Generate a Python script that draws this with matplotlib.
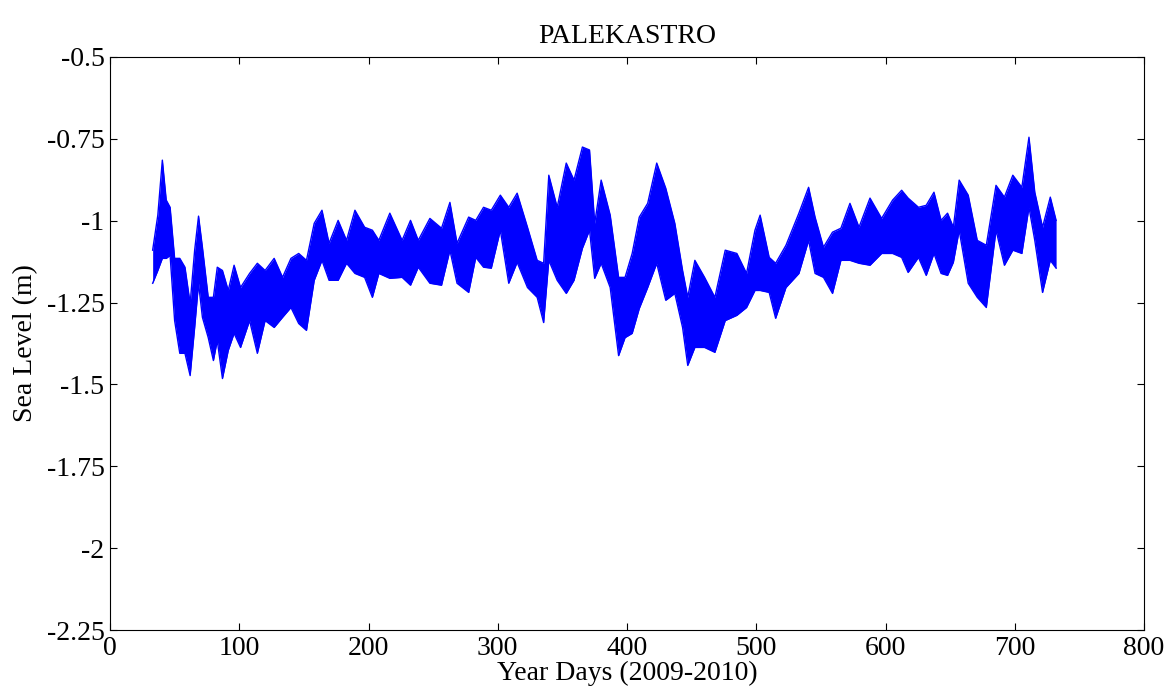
import matplotlib
matplotlib.use("Agg")
import matplotlib.pyplot as plt
import numpy as np

# Envelope of the sea-level record (day, upper, lower) in metres
days = [33, 37, 40.5, 43.5, 46.5, 50, 54, 58, 62, 65.5, 68.5, 71.5, 76, 80, 83, 87, 91.5, 96,
        101, 108, 114, 120, 127, 133.5, 140, 146, 152, 158, 164, 169.5, 176.5, 183, 189.5,
        197, 203, 208, 216.5, 226, 232.5, 238.5, 247.5, 256.5, 263, 268.5, 277.5, 283, 289,
        295, 302, 308.5, 315, 323, 330.5, 335.5, 339.5, 346, 353, 359, 365.5, 371, 375, 380,
        387, 393.5, 398.5, 404, 409.5, 416, 423, 430, 437, 443, 447, 452.5, 460, 468, 476,
        485, 492.5, 499, 503, 510, 515, 523, 533, 540.5, 545.5, 552, 559, 565.5, 572.5,
        579.5, 588, 597, 605.5, 612.5, 617.5, 625.5, 631.5, 637.5, 643, 648, 652.5, 657,
        664, 671, 678, 685.5, 692, 698.5, 705.5, 711, 715.5, 721.5, 727.5, 732]
upper = [-1.090, -0.983, -0.815, -0.937, -0.959, -1.115, -1.115, -1.142, -1.253, -1.090,
         -0.986, -1.081, -1.234, -1.234, -1.142, -1.152, -1.213, -1.136, -1.204, -1.161,
         -1.130, -1.152, -1.115, -1.173, -1.115, -1.100, -1.121, -1.008, -0.968, -1.069,
         -0.999, -1.060, -0.968, -1.020, -1.029, -1.060, -0.977, -1.060, -0.999, -1.060,
         -0.993, -1.023, -0.944, -1.069, -0.989, -0.999, -0.959, -0.968, -0.922, -0.959,
         -0.916, -1.020, -1.121, -1.130, -0.861, -0.959, -0.824, -0.876, -0.775, -0.784,
         -1.008, -0.876, -0.983, -1.173, -1.173, -1.100, -0.989, -0.947, -0.824, -0.901,
         -1.008, -1.152, -1.234, -1.121, -1.173, -1.234, -1.090, -1.100, -1.161, -1.029,
         -0.983, -1.112, -1.130, -1.075, -0.977, -0.898, -0.989, -1.081, -1.035, -1.023,
         -0.947, -1.020, -0.931, -0.993, -0.937, -0.907, -0.931, -0.959, -0.953, -0.913,
         -0.999, -0.977, -1.020, -0.876, -0.922, -1.060, -1.075, -0.892, -0.928, -0.861,
         -0.898, -0.745, -0.913, -1.020, -0.928, -0.999]
lower = [-1.191, -1.152, -1.115, -1.115, -1.106, -1.305, -1.405, -1.405, -1.473, -1.326,
         -1.191, -1.295, -1.357, -1.427, -1.366, -1.482, -1.396, -1.344, -1.387, -1.305,
         -1.405, -1.305, -1.326, -1.295, -1.265, -1.314, -1.335, -1.182, -1.121, -1.182,
         -1.182, -1.130, -1.161, -1.173, -1.234, -1.161, -1.176, -1.173, -1.197, -1.142,
         -1.191, -1.197, -1.090, -1.191, -1.219, -1.112, -1.142, -1.145, -1.029, -1.191,
         -1.127, -1.204, -1.234, -1.311, -1.121, -1.182, -1.222, -1.182, -1.084, -1.029,
         -1.176, -1.130, -1.204, -1.412, -1.357, -1.344, -1.268, -1.204, -1.130, -1.243,
         -1.222, -1.326, -1.442, -1.387, -1.387, -1.402, -1.305, -1.289, -1.265, -1.213,
         -1.213, -1.219, -1.298, -1.204, -1.161, -1.060, -1.161, -1.173, -1.222, -1.121,
         -1.121, -1.130, -1.136, -1.100, -1.100, -1.112, -1.158, -1.112, -1.167, -1.100,
         -1.161, -1.167, -1.127, -1.029, -1.191, -1.234, -1.265, -1.029, -1.136, -1.090,
         -1.100, -0.959, -1.060, -1.219, -1.121, -1.145]

x_ticks = [0, 100, 200, 300, 400, 500, 600, 700, 800]
y_ticks = [-2.25, -2.0, -1.75, -1.5, -1.25, -1.0, -0.75, -0.5]
y_tick_labels = ["-2.25", "-2", "-1.75", "-1.5", "-1.25", "-1", "-0.75", "-0.5"]

plt.rcParams['font.family'] = ['Liberation Serif', 'DejaVu Serif']

fig = plt.figure(figsize=(11.69, 6.90), dpi=100)
ax = fig.add_axes([110 / 1169, 1 - 630 / 690, (1144 - 110) / 1169, (630 - 57) / 690])

blue = (0, 0, 1)
ax.fill_between(days, lower, upper, color=blue, linewidth=0)
ax.plot(days, upper, color=blue, linewidth=1.0)
ax.plot(days, lower, color=blue, linewidth=1.0)

ax.set_xlim(0, 800)
ax.set_ylim(-2.25, -0.5)
ax.set_xticks(x_ticks)
ax.set_xticklabels([str(t) for t in x_ticks])
ax.set_yticks(y_ticks)
ax.set_yticklabels(y_tick_labels)

ax.tick_params(direction='in', length=5, width=0.8, top=True, right=True,
               labelsize=20, pad=4)
for s in ax.spines.values():
    s.set_linewidth(0.8)

ax.set_title("PALEKASTRO", fontsize=20, pad=10)
ax.set_xlabel("Year Days (2009-2010)", fontsize=20, labelpad=0)
ax.set_ylabel("Sea Level (m)", fontsize=20, labelpad=6)

fig.savefig("out.png", dpi=100)
